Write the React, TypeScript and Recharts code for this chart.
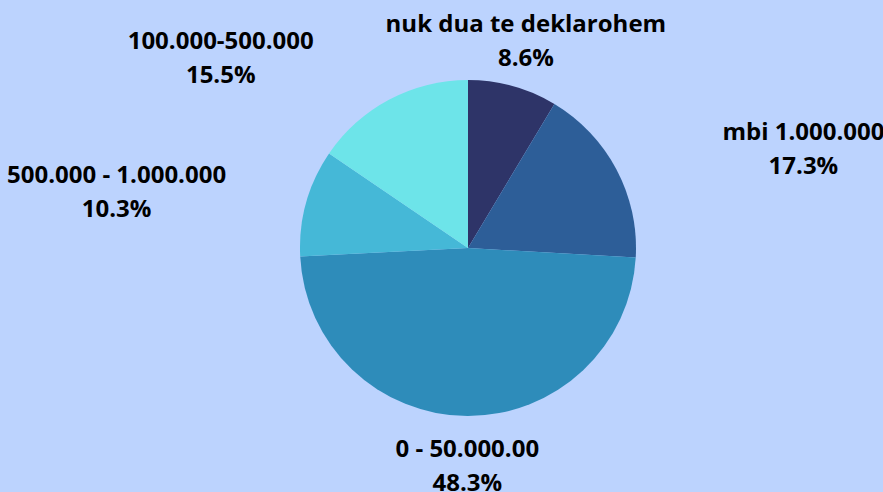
import { PieChart, Pie, Cell } from "recharts";

const CATEGORIES = [
  "nuk dua te deklarohem",
  "mbi 1.000.000",
  "0 - 50.000.00",
  "500.000 - 1.000.000",
  "100.000-500.000",
];
const SHARES = [8.6, 17.3, 48.3, 10.3, 15.5];
const COLORS = ["#2e3468", "#2d5e98", "#2e8cba", "#45b8d7", "#6de4e9"];

const data = CATEGORIES.map((name, i) => ({ name, value: SHARES[i] }));

const RAD = Math.PI / 180;

function renderLabel(props: any) {
  const { cx, cy, midAngle, outerRadius, name, value } = props;
  const c = Math.cos(midAngle * RAD);
  const s = Math.sin(midAngle * RAD);
  const d = outerRadius + 44 + 5 * Math.abs(s);
  // push side labels outward so they clear the pie
  const push = Math.abs(c) > 0.4 ? Math.sign(c) * 146 : 0;
  const x = cx + d * c + push;
  const y = cy - d * s;
  return (
    <text
      x={x}
      y={y}
      textAnchor="middle"
      fill="#000"
      fontFamily="'Open Sans', sans-serif"
      fontWeight={700}
      fontSize={24}
    >
      <tspan x={x} y={y - 17} dominantBaseline="central">
        {name}
      </tspan>
      <tspan x={x} y={y + 17} dominantBaseline="central">
        {value.toFixed(1)}%
      </tspan>
    </text>
  );
}

export default function App() {
  return (
    <div
      style={{
        position: "absolute",
        left: 0,
        top: 0,
        width: 883,
        height: 492,
        background: "#bcd3fe",
        overflow: "hidden",
      }}
    >
      <PieChart width={883} height={492} margin={{ top: 0, right: 0, bottom: 0, left: 0 }}>
        <Pie
          data={data}
          dataKey="value"
          nameKey="name"
          cx={468}
          cy={248}
          outerRadius={168}
          startAngle={90}
          endAngle={-270}
          stroke="none"
          label={renderLabel}
          labelLine={false}
          isAnimationActive={false}
        >
          {data.map((entry, i) => (
            <Cell key={entry.name} fill={COLORS[i]} />
          ))}
        </Pie>
      </PieChart>
    </div>
  );
}
